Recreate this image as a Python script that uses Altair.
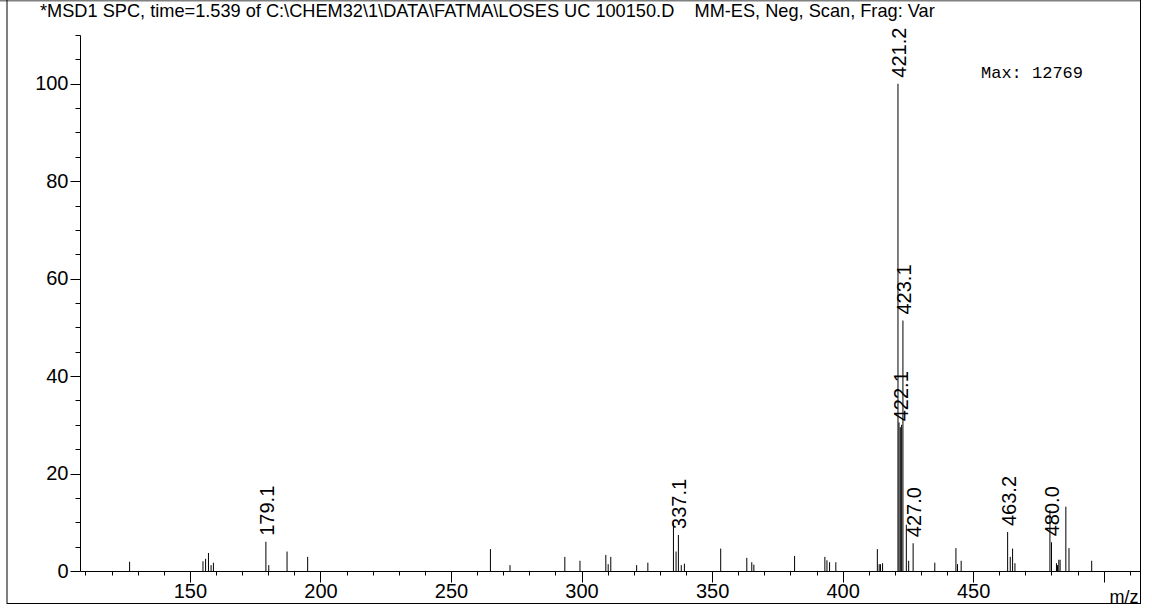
import altair as alt
import pandas as pd

# Centroided peaks: m/z and relative abundance (% of base peak)
peak_mz = [
    126.9, 155.0, 156.0, 157.1, 158.1, 159.0, 179.1, 180.2, 187.2, 195.1,
    265.1, 272.6, 293.6, 299.4, 309.3, 310.2, 311.2, 321.1, 325.4,
    335.2, 336.2, 337.1, 338.2, 339.4, 353.3, 363.3, 365.2, 366.0,
    381.6, 393.2, 394.0, 395.0, 397.4, 413.3, 414.0, 414.5, 415.3,
    421.2, 421.6, 422.1, 422.6, 423.1, 424.4, 425.3, 427.0,
    435.3, 443.4, 444.0, 445.4, 463.2, 464.2, 465.1, 466.0,
    479.4, 480.0, 481.9, 482.3, 482.8, 483.3, 485.5, 486.7, 495.4,
]
peak_rel = [
    1.9, 2.0, 2.5, 3.7, 1.2, 1.7, 6.0, 1.2, 4.0, 2.9,
    4.5, 1.2, 2.9, 2.1, 3.3, 1.4, 2.9, 1.2, 1.7,
    9.9, 4.0, 7.4, 1.2, 1.5, 4.6, 2.7, 1.8, 1.3,
    3.1, 2.9, 2.2, 1.8, 1.8, 4.5, 1.4, 1.4, 1.6,
    100.0, 30.5, 29.5, 30.0, 51.4, 9.5, 2.1, 5.7,
    1.7, 4.7, 1.4, 2.1, 8.0, 2.9, 4.6, 1.6,
    12.5, 5.9, 1.6, 1.2, 2.3, 2.3, 13.2, 4.7, 2.1,
]

# Peaks annotated with their m/z
label_mz = [179.1, 337.1, 421.2, 422.1, 423.1, 427.0, 463.2, 480.0]

x_ticks = list(range(110, 511, 10))
y_ticks = list(range(0, 111, 5))

title_text = ("*MSD1 SPC, time=1.539 of C:\\CHEM32\\1\\DATA\\FATMA\\LOSES UC 100150.D"
              "\u00a0\u00a0\u00a0\u00a0MM-ES, Neg, Scan, Frag: Var")
max_text = "Max: 12769"

peaks = pd.DataFrame({"mz": peak_mz, "rel": peak_rel})
labels = pd.DataFrame({
    "mz": label_mz,
    "rel": [peak_rel[peak_mz.index(m)] for m in label_mz],
    "text": [f"{m:.1f}" for m in label_mz],
})

sans = "Liberation Sans, Arial"

x_scale = alt.Scale(domain=[107.9, 513.9], nice=False, zero=False)
y_scale = alt.Scale(domain=[0, 110], nice=False, zero=True)

x_axis = alt.Axis(
    values=x_ticks,
    tickSize={"condition": {"test": "datum.value % 50 === 0", "value": 11}, "value": 4},
    labelExpr="datum.value % 50 === 0 && datum.value < 500 ? datum.label : ''",
    labelFont=sans, labelFontSize=20, labelColor="black", labelPadding=-1,
    labelOverlap=False, labelFlush=False, labelBound=False,
    domainColor="black", tickColor="black", grid=False,
    title="m/z", titleFont=sans, titleFontSize=18, titleFontWeight="normal",
    titleColor="black", titleAnchor="end", titleAlign="right",
    titleBaseline="alphabetic", titleX=1058, titleY=31,
)
y_axis = alt.Axis(
    values=y_ticks,
    tickSize={"condition": {"test": "datum.value % 20 === 0", "value": 10}, "value": 5},
    labelExpr="datum.value % 20 === 0 ? datum.label : ''",
    labelFont=sans, labelFontSize=20, labelColor="black", labelPadding=2,
    labelOverlap=False, labelFlush=False, labelBound=False,
    domainColor="black", tickColor="black", grid=False, title=None,
)

x_enc = alt.X("mz:Q", scale=x_scale, axis=x_axis)
y_enc = alt.Y("rel:Q", scale=y_scale, axis=y_axis)

sticks = alt.Chart(peaks).mark_rule(color="black", strokeWidth=1).encode(
    x=x_enc, y=y_enc, y2=alt.datum(0),
)

peak_labels = alt.Chart(labels).mark_text(
    angle=270, align="left", baseline="middle", dx=6, dy=2,
    font="Liberation Sans", fontSize=20, color="black",
).encode(x=x_enc, y=y_enc, text="text:N")

one = pd.DataFrame({"k": [0]})

def frame_line(x, y, x2=None, y2=None, color="black", width=1):
    enc = {"x": alt.value(x), "y": alt.value(y)}
    if x2 is not None:
        enc["x2"] = alt.value(x2)
    if y2 is not None:
        enc["y2"] = alt.value(y2)
    return alt.Chart(one).mark_rule(color=color, strokeWidth=width).encode(**enc)

frame = [
    frame_line(-80, -34.5, x2=1060.5, color="#808080", width=2),
    frame_line(-73, -35, y2=569),
    frame_line(1060.5, -35, y2=569),
    frame_line(-73, 568.5, x2=1060.5),
]

title = alt.Chart(one).mark_text(
    align="left", baseline="alphabetic", font=sans, fontSize=18.2, color="black"
).encode(x=alt.value(-40), y=alt.value(-18), text=alt.value(title_text))

max_label = alt.Chart(one).mark_text(
    align="left", baseline="middle", font="Liberation Mono", fontSize=17, color="black"
).encode(x=alt.value(901), y=alt.value(38), text=alt.value(max_text))

chart = alt.layer(sticks, peak_labels, title, max_label, *frame).properties(
    width=1060,
    height=536,
    autosize=alt.AutoSizeParams(type="none"),
    padding={"left": 80, "top": 35, "right": 12, "bottom": 41},
    background="white",
).configure_view(stroke=None)

chart.save("out.html", embed_options={"renderer": "svg", "actions": False})
